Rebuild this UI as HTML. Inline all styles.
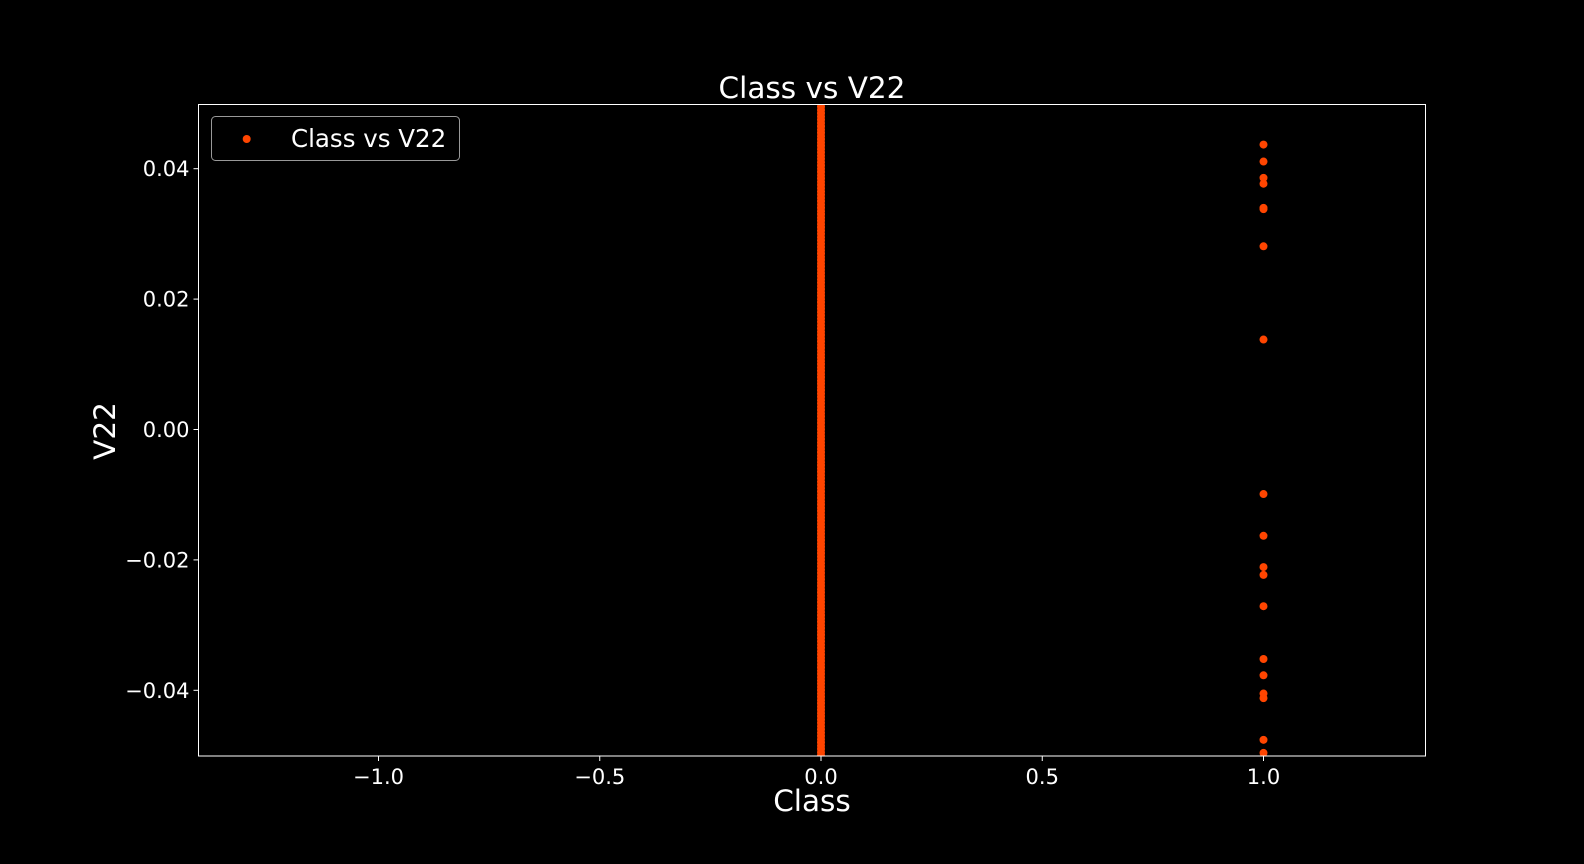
<!DOCTYPE html>
<html><head><meta charset="utf-8"><style>
html,body{margin:0;padding:0;background:#000;}
svg{display:block;font-family:"DejaVu Sans","Liberation Sans",sans-serif;}
</style></head><body>
<svg id="chart" width="1584" height="864" viewBox="0 0 1584 864">
<rect width="1584" height="864" fill="#000"/>
<g id="plot"></g>
<rect x="198.5" y="104.5" width="1227" height="651.5" fill="none" stroke="#fff" stroke-width="1"/>
<g id="ticks"></g>
<text x="812" y="98" fill="#fff" font-size="29.5" text-anchor="middle">Class vs V22</text>
<text x="812" y="811" fill="#fff" font-size="29.5" text-anchor="middle">Class</text>
<text x="0" y="0" transform="translate(115,431) rotate(-90)" fill="#fff" font-size="29.5" text-anchor="middle">V22</text>
<g>
<rect x="211.5" y="116.5" width="248" height="44" rx="4" fill="#000" stroke="#999"/>
<circle cx="246.7" cy="139" r="4" fill="#ff4500"/>
<text x="291" y="147" fill="#fff" font-size="24.5">Class vs V22</text>
</g>
</svg>
<script>
const xTicks=[-1.0,-0.5,0.0,0.5,1.0];
const xTickLabels=["\u22121.0","\u22120.5","0.0","0.5","1.0"];
const yTicks=[-0.04,-0.02,0.00,0.02,0.04];
const yTickLabels=["\u22120.04","\u22120.02","0.00","0.02","0.04"];
const class0Values=[-0.050,-0.049,-0.048,-0.047,-0.046,-0.045,-0.044,-0.043,-0.042,-0.041,-0.040,-0.039,-0.038,-0.037,-0.036,-0.035,-0.034,-0.033,-0.032,-0.031,-0.030,-0.029,-0.028,-0.027,-0.026,-0.025,-0.024,-0.023,-0.022,-0.021,-0.020,-0.019,-0.018,-0.017,-0.016,-0.015,-0.014,-0.013,-0.012,-0.011,-0.010,-0.009,-0.008,-0.007,-0.006,-0.005,-0.004,-0.003,-0.002,-0.001,0.000,0.001,0.002,0.003,0.004,0.005,0.006,0.007,0.008,0.009,0.010,0.011,0.012,0.013,0.014,0.015,0.016,0.017,0.018,0.019,0.020,0.021,0.022,0.023,0.024,0.025,0.026,0.027,0.028,0.029,0.030,0.031,0.032,0.033,0.034,0.035,0.036,0.037,0.038,0.039,0.040,0.041,0.042,0.043,0.044,0.045,0.046,0.047,0.048,0.049,0.050,
-0.0495,-0.0485,-0.0475,-0.0465,-0.0455,-0.0445,-0.0435,-0.0425,-0.0415,-0.0405,-0.0395,-0.0385,-0.0375,-0.0365,-0.0355,-0.0345,-0.0335,-0.0325,-0.0315,-0.0305,-0.0295,-0.0285,-0.0275,-0.0265,-0.0255,-0.0245,-0.0235,-0.0225,-0.0215,-0.0205,-0.0195,-0.0185,-0.0175,-0.0165,-0.0155,-0.0145,-0.0135,-0.0125,-0.0115,-0.0105,-0.0095,-0.0085,-0.0075,-0.0065,-0.0055,-0.0045,-0.0035,-0.0025,-0.0015,-0.0005,0.0005,0.0015,0.0025,0.0035,0.0045,0.0055,0.0065,0.0075,0.0085,0.0095,0.0105,0.0115,0.0125,0.0135,0.0145,0.0155,0.0165,0.0175,0.0185,0.0195,0.0205,0.0215,0.0225,0.0235,0.0245,0.0255,0.0265,0.0275,0.0285,0.0295,0.0305,0.0315,0.0325,0.0335,0.0345,0.0355,0.0365,0.0375,0.0385,0.0395,0.0405,0.0415,0.0425,0.0435,0.0445,0.0455,0.0465,0.0475,0.0485,0.0495];
const class1Values=[0.0437,0.0411,0.0386,0.0377,0.0340,0.0338,0.0281,0.0138,-0.0099,-0.0163,-0.0211,-0.0223,-0.0271,-0.0352,-0.0377,-0.0405,-0.0412,-0.0476,-0.0496];
const NS="http://www.w3.org/2000/svg";
const L=198.5,R=1425.5,T=104.5,B=756;
function xs(v){return 821+v*442.5;}
function ys(v){return 429.5-v*6520;}
const plot=document.getElementById('plot'),tk=document.getElementById('ticks');
const clip=document.createElementNS(NS,'clipPath');clip.setAttribute('id','c');
const cr=document.createElementNS(NS,'rect');cr.setAttribute('x',L);cr.setAttribute('y',T);cr.setAttribute('width',R-L);cr.setAttribute('height',B-T);
clip.appendChild(cr);plot.appendChild(clip);plot.setAttribute('clip-path','url(#c)');
function pt(x,y,name){const c=document.createElementNS(NS,'circle');c.setAttribute('cx',xs(x));c.setAttribute('cy',ys(y));c.setAttribute('r',4);c.setAttribute('fill','#ff4500');


plot.appendChild(c);}
class0Values.forEach(v=>pt(0,v,'point-class-0'));
class1Values.forEach(v=>pt(1,v,'point-class-1'));
xTicks.forEach((v,i)=>{const x=xs(v);
const l=document.createElementNS(NS,'line');l.setAttribute('x1',x);l.setAttribute('x2',x);l.setAttribute('y1',B);l.setAttribute('y2',B+5);l.setAttribute('stroke','#fff');


tk.appendChild(l);
const t=document.createElementNS(NS,'text');t.setAttribute('x',x);t.setAttribute('y',B+28);t.setAttribute('fill','#fff');t.setAttribute('font-size','21');t.setAttribute('text-anchor','middle');t.textContent=xTickLabels[i];


tk.appendChild(t);});
yTicks.forEach((v,i)=>{const y=ys(v);
const l=document.createElementNS(NS,'line');l.setAttribute('x1',L-5);l.setAttribute('x2',L);l.setAttribute('y1',y);l.setAttribute('y2',y);l.setAttribute('stroke','#fff');


tk.appendChild(l);
const t=document.createElementNS(NS,'text');t.setAttribute('x',L-9);t.setAttribute('y',y+7.5);t.setAttribute('fill','#fff');t.setAttribute('font-size','21');t.setAttribute('text-anchor','end');t.textContent=yTickLabels[i];


tk.appendChild(t);});
</script>
</body></html>
